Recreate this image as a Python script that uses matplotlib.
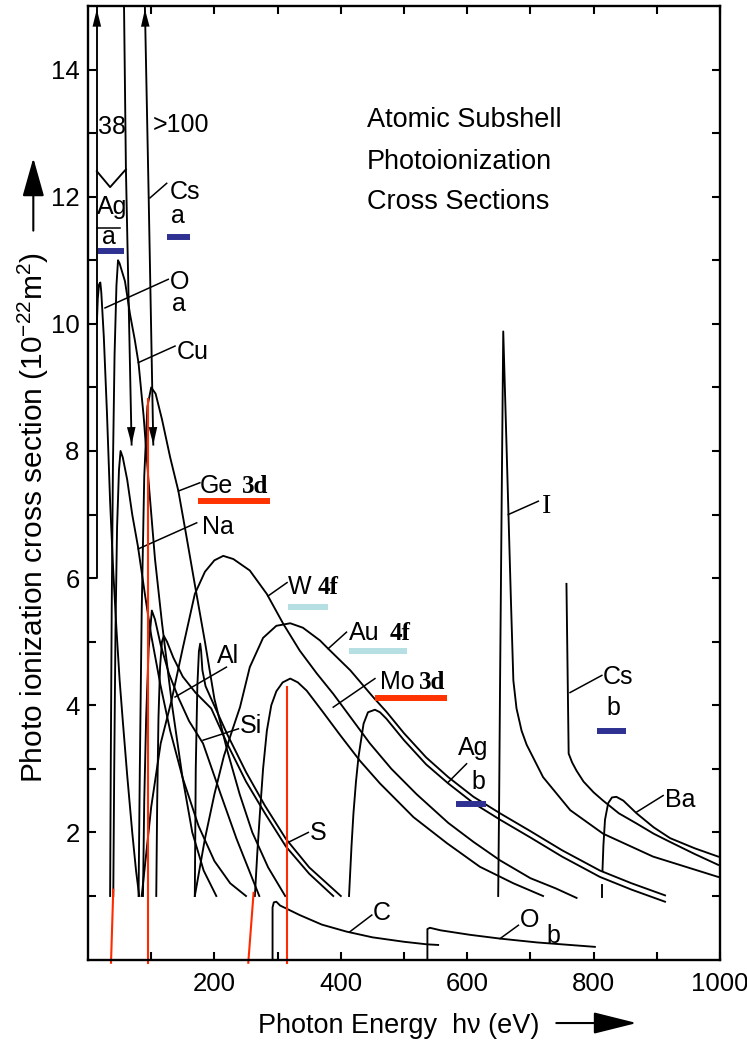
import matplotlib.pyplot as plt
from matplotlib.patches import FancyArrowPatch

plt.rcParams['font.family'] = ['Liberation Sans', 'DejaVu Sans']
plt.rcParams['mathtext.default'] = 'regular'

# ---- curves: photon energy (eV) and cross section (1e-22 m^2) ----
ag_a_step_ev = [0, 14, 14]
ag_a_step_y = [6.0, 6.0, 15.0]
ag_a_fall_ev = [57, 60, 69]
ag_a_fall_y = [15.0, 12.43, 8.1]
ag_notch_ev = [14, 35, 60]
ag_notch_y = [12.4, 12.15, 12.43]

cs_a_ev = [90, 96, 103.3]
cs_a_y = [15.0, 12.0, 8.1]

o_a_ev = [14, 15.5, 17.5, 19.5, 21, 23, 25, 30, 35, 40, 45, 50, 55, 62, 70, 76, 81]
o_a_y = [10.0, 10.4, 10.62, 10.65, 10.5, 10.15, 9.8, 8.6, 7.2, 6.1, 5.2, 4.4, 3.76, 2.9, 2.0, 1.4, 1.0]

cu_ev = [35, 36, 37.5, 39.5, 42, 45, 47.5, 50, 53, 58.5, 66.5, 74, 80, 88, 96, 106, 117, 133, 149, 165, 183, 203]
cu_y = [1.0, 3.0, 5.5, 7.8, 9.5, 10.6, 11.0, 10.95, 10.85, 10.67, 10.15, 9.75, 9.38, 8.55, 7.5, 6.3, 5.3, 4.0, 2.9, 2.0, 1.4, 1.0]

na_ev = [40, 41.5, 43.5, 46, 49, 51.5, 55, 62, 70, 79, 90, 100, 115, 130, 150, 175, 200, 225, 250]
na_y = [1.0, 3.0, 5.2, 6.8, 7.7, 8.0, 7.9, 7.55, 7.0, 6.5, 5.75, 5.1, 4.3, 3.6, 2.85, 2.1, 1.55, 1.2, 1.0]

ge_ev = [80, 82, 85, 89, 94, 100, 107, 117, 130, 143, 155, 169, 185, 200, 220, 240, 260, 285, 312]
ge_y = [1.0, 3.0, 5.5, 7.6, 8.7, 9.0, 8.9, 8.5, 7.9, 7.37, 6.7, 5.9, 5.0, 4.1, 3.3, 2.6, 2.0, 1.45, 1.0]

al_ev = [87, 89, 92, 96, 101, 106, 115, 128, 143, 160, 182, 210, 235, 255, 271]
al_y = [1.0, 2.5, 3.8, 4.9, 5.49, 5.35, 4.95, 4.5, 4.12, 3.75, 3.4, 2.6, 1.9, 1.4, 1.0]

si_ev = [108, 109.5, 111.5, 114, 117, 120, 125, 135, 150, 170, 195, 220, 250, 280, 313, 350, 388]
si_y = [1.0, 2.5, 3.8, 4.6, 5.0, 5.09, 5.0, 4.75, 4.45, 4.2, 3.95, 3.4, 2.8, 2.3, 1.78, 1.35, 1.0]

s_ev = [169, 170.5, 173, 175.5, 177.5, 179, 181, 186, 195, 220, 250, 280, 313, 350, 400]
s_y = [1.0, 3.0, 4.3, 4.85, 4.97, 4.85, 4.55, 4.3, 4.1, 3.55, 2.95, 2.42, 1.9, 1.45, 1.0]

w_ev = [85, 100, 115, 132, 150, 169, 185, 200, 214, 230, 256, 283, 309, 335, 362, 388, 420, 446,
        480, 520, 570, 610, 652, 700, 740, 773]
w_y = [1.0, 2.4, 3.4, 4.07, 4.9, 5.75, 6.1, 6.28, 6.35, 6.3, 6.12, 5.75, 5.28, 4.86, 4.5, 4.18, 3.75, 3.4,
       3.0, 2.6, 2.15, 1.85, 1.56, 1.28, 1.12, 0.97]

au_ev = [169, 185, 200, 215, 228, 240.5, 256, 277, 298, 320, 340, 367, 380, 415, 451, 472, 500, 535,
         570, 610, 652, 700, 750, 810, 860, 913]
au_y = [1.0, 1.9, 2.6, 3.2, 3.6, 3.97, 4.6, 5.06, 5.25, 5.29, 5.22, 5.02, 4.89, 4.55, 4.13, 3.9, 3.56, 3.18,
        2.87, 2.56, 2.3, 2.02, 1.72, 1.4, 1.2, 1.01]

mo_ev = [264, 268, 272, 277, 283, 290, 298, 308, 320, 332, 346, 372, 399, 430, 462, 515, 568, 620, 673, 720]
mo_y = [1.0, 1.7, 2.3, 3.0, 3.6, 4.0, 4.22, 4.36, 4.42, 4.36, 4.23, 3.89, 3.53, 3.13, 2.77, 2.24, 1.83, 1.46, 1.2, 1.0]

ag_b_ev = [413, 417, 420, 424, 428, 436, 443, 454, 462, 472, 500, 535, 570, 610, 652, 700, 750, 810, 860, 913]
ag_b_y = [1.0, 1.8, 2.3, 2.8, 3.19, 3.71, 3.89, 3.93, 3.89, 3.79, 3.45, 3.07, 2.77, 2.46, 2.2, 1.92, 1.62, 1.3, 1.1, 0.91]

i_ev = [649, 650.5, 652, 654.5, 657, 661, 665, 669, 673, 678, 686, 694, 720, 763, 815, 894, 997]
i_y = [1.0, 2.5, 4.4, 7.2, 9.88, 8.5, 7.1, 5.7, 4.39, 3.95, 3.6, 3.38, 2.87, 2.35, 1.98, 1.62, 1.3]

cs_b_ev = [757, 760.5, 766, 773, 784, 800, 815, 840, 868, 895, 921, 960, 997]
cs_b_y = [5.91, 3.24, 3.1, 2.97, 2.8, 2.63, 2.5, 2.3, 2.14, 1.98, 1.85, 1.66, 1.49]

ba_stub_ev = [814, 814]
ba_stub_y = [0.98, 1.17]
ba_ev = [814, 815.5, 818, 823, 829, 836, 847, 868, 895, 921, 960, 997]
ba_y = [1.4, 1.8, 2.2, 2.46, 2.55, 2.56, 2.5, 2.3, 2.08, 1.91, 1.75, 1.62]

c_ev = [292, 292, 294, 298, 304, 335, 370, 409, 450, 500, 536, 554]
c_y = [0.0, 0.82, 0.9, 0.91, 0.85, 0.7, 0.55, 0.44, 0.35, 0.28, 0.24, 0.23]

o_b_ev = [537, 537, 541, 558, 604, 652, 710, 802]
o_b_y = [0.0, 0.48, 0.5, 0.46, 0.39, 0.33, 0.27, 0.2]

curves = [
    (ag_a_step_ev, ag_a_step_y), (ag_a_fall_ev, ag_a_fall_y), (ag_notch_ev, ag_notch_y),
    (cs_a_ev, cs_a_y), (o_a_ev, o_a_y), (cu_ev, cu_y), (na_ev, na_y), (ge_ev, ge_y),
    (al_ev, al_y), (si_ev, si_y), (s_ev, s_y), (w_ev, w_y), (au_ev, au_y), (mo_ev, mo_y),
    (ag_b_ev, ag_b_y), (i_ev, i_y), (cs_b_ev, cs_b_y), (ba_stub_ev, ba_stub_y), (ba_ev, ba_y),
    (c_ev, c_y), (o_b_ev, o_b_y),
]

# leader lines from labels to curves
leaders = [
    ((98, 124.5), (11.98, 12.21)), ((26.9, 127), (10.25, 10.7)), ((79.6, 137.7), (9.39, 9.65)),
    ((143, 177), (7.37, 7.5)), ((79.6, 172), (6.46, 6.87)), ((285, 315), (5.72, 5.93)),
    ((380, 409), (4.89, 5.15)), ((388, 454), (3.97, 4.42)), ((137.7, 219), (4.13, 4.6)),
    ((182, 238), (3.45, 3.63)), ((314, 348.6), (1.83, 2.0)), ((414.6, 449), (0.44, 0.7)),
    ((652, 681), (0.33, 0.54)), ((570, 599), (2.79, 3.08)), ((762.7, 813), (4.2, 4.47)),
    ((868, 910), (2.32, 2.58)), ((665, 712.5), (7.0, 7.21)),
]

# curve labels: text, left edge (eV), baseline
labels = [
    ('38', 15.8, 12.99), ('>100', 102.8, 13.02),
    ('Cs', 129.7, 11.96), ('a', 130.8, 11.58),
    ('Ag', 13.7, 11.72), ('a', 21.6, 11.26),
    ('O', 129.7, 10.54), ('a', 133.4, 10.2),
    ('Cu', 140.8, 9.44), ('Ge', 177, 7.34), ('Na', 179.9, 6.7),
    ('W', 317, 5.75), ('Au', 413, 5.02), ('Mo', 462, 4.26),
    ('Al', 203.6, 4.66), ('Si', 240.5, 3.56), ('S', 351, 1.88), ('C', 451, 0.62),
    ('O', 683.5, 0.51), ('b', 725.8, 0.26),
    ('Ag', 586, 3.21), ('b', 607, 2.68),
    ('Cs', 815, 4.34), ('b', 820.7, 3.84),
    ('Ba', 913, 2.4),
]
orbitals = [('3d', 244, 7.34), ('4f', 363, 5.75), ('4f', 477, 5.02), ('3d', 523, 4.26)]

# highlight bars: start, end (eV), level, colour
bars = [
    (16, 57, 11.14, '#2e3192'), (125, 161, 11.36, '#2e3192'),
    (174, 288, 7.21, '#ff3300'), (316, 380, 5.54, '#b5dfe2'),
    (413, 505, 4.85, '#b5dfe2'), (454, 568, 4.12, '#ff3300'),
    (582, 630, 2.44, '#2e3192'), (805, 851, 3.59, '#2e3192'),
]
red_marks = [((40, 36.4), (1.1, -0.05)), ((94.5, 94.5), (8.82, -0.05)),
             ((262, 253.6), (1.05, -0.05)), ((314.5, 314.5), (4.28, -0.05))]

fig = plt.figure(figsize=(7.47, 10.42), dpi=100)
ax = fig.add_axes([0.1178, 0.0791, 0.8461, 0.9152])
ax.set_xlim(0, 1000)
ax.set_ylim(0, 15)

for xs, ys in curves:
    ax.plot(xs, ys, color='black', lw=1.35, solid_joinstyle='round')
for xs, ys in leaders:
    ax.plot(xs, ys, color='black', lw=1.1)


def head(tip, tail, scale=14):
    ax.annotate('', xy=tip, xytext=tail, annotation_clip=False,
                arrowprops=dict(arrowstyle='-|>,head_length=0.9,head_width=0.22',
                                color='black', lw=0.01, mutation_scale=scale,
                                shrinkA=0, shrinkB=0))


head((14, 14.95), (14, 14.3))
head((90.1, 14.95), (91.3, 14.3))
head((69, 8.1), (67.5, 8.8))
head((103.3, 8.1), (102.0, 8.8))

for text, x, y in labels:
    ax.text(x, y, text, fontsize=18, va='baseline', ha='left')
ax.text(718, 7.03, 'I', fontsize=20, va='baseline', ha='left', family='Liberation Serif')
for text, x, y in orbitals:
    ax.text(x, y, text, fontsize=18, va='baseline', ha='left',
            family='Liberation Serif', weight='bold')
ax.plot([13.7, 50.6], [11.5, 11.5], color='black', lw=1.1)

for x0, x1, y, c in bars:
    ax.plot([x0, x1], [y, y], color=c, lw=4.3, solid_capstyle='butt')
for xs, ys in red_marks:
    ax.plot(xs, ys, color='#ff2a00', lw=1.5, clip_on=False)

for t, y in [('Atomic Subshell', 13.1), ('Photoionization', 12.44), ('Cross Sections', 11.81)]:
    ax.text(441, y, t, fontsize=19.5, va='baseline', ha='left')

ax.set_xticks([200, 400, 600, 800, 1000])
ax.set_xticks([100, 300, 500, 700, 900], minor=True)
ax.set_yticks([2, 4, 6, 8, 10, 12, 14])
ax.set_yticks([1, 3, 5, 7, 9, 11, 13], minor=True)
ax.tick_params(which='both', direction='in', top=True, right=True, length=6, width=1.5, labelsize=18.5)
ax.tick_params(axis='x', pad=9)
ax.tick_params(axis='y', pad=6)
for sp in ax.spines.values():
    sp.set_linewidth(1.7)

fig.text(0.0442, 0.5034, 'Photo ionization cross section (10$^{-22}$m$^{2}$)',
         rotation=90, ha='center', va='center', fontsize=21.5)
fig.text(0.3454, 0.0087, 'Photon Energy  h\u03bd (eV)', ha='left', va='baseline', fontsize=19.5)
fig.patches.append(FancyArrowPatch(
    (0.0446, 0.776), (0.0446, 0.851), transform=fig.transFigure, figure=fig,
    arrowstyle='-|>,head_length=1.6,head_width=0.45', mutation_scale=15, color='black', lw=1.5))
fig.patches.append(FancyArrowPatch(
    (0.741, 0.0182), (0.856, 0.0182), transform=fig.transFigure, figure=fig,
    arrowstyle='-|>,head_length=1.8,head_width=0.45', mutation_scale=15, color='black', lw=1.5))

fig.savefig('out.png', dpi=100)
